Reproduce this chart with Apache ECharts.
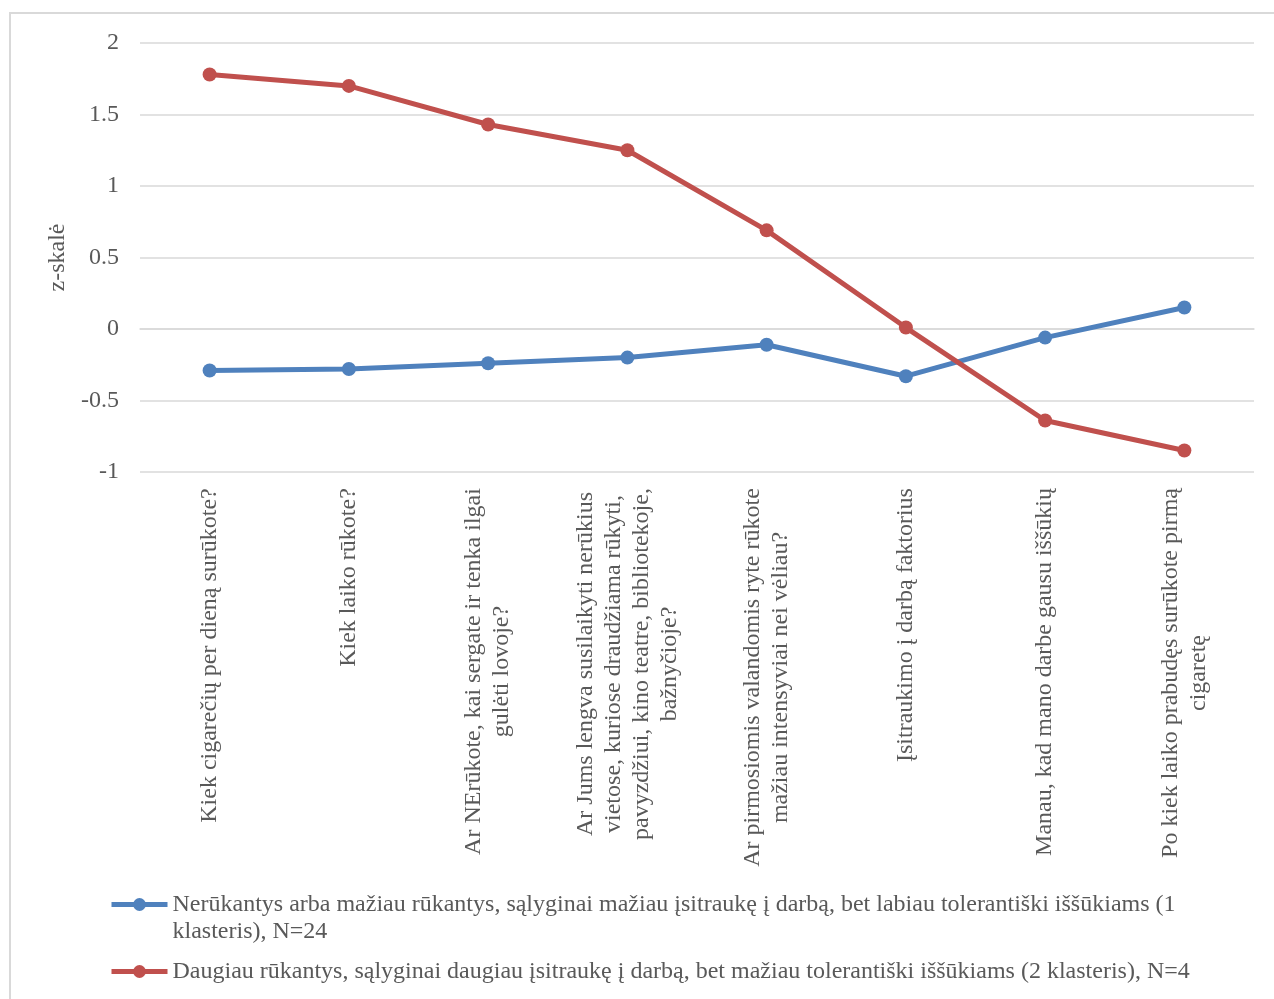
<!DOCTYPE html>
<html>
<head>
<meta charset="utf-8">
<script src="https://cdn.jsdelivr.net/npm/echarts@6/dist/echarts.min.js"></script>
<style>
  html, body { margin: 0; padding: 0; background: #ffffff; }
  #chart { width: 1274px; height: 999px; }
</style>
</head>
<body>
<div id="chart"></div>
<script>
// Questionnaire items (one line per "\n")
const categories = [
  'Kiek cigarečių per dieną surūkote?',
  'Kiek laiko rūkote?',
  'Ar NErūkote, kai sergate ir tenka ilgai\ngulėti lovoje?',
  'Ar Jums lengva susilaikyti nerūkius\nvietose, kuriose draudžiama rūkyti,\npavyzdžiui, kino teatre, bibliotekoje,\nbažnyčioje?',
  'Ar pirmosiomis valandomis ryte rūkote\nmažiau intensyviai nei vėliau?',
  'Įsitraukimo į darbą faktorius',
  'Manau, kad mano darbe gausu iššūkių',
  'Po kiek laiko prabudęs surūkote pirmą\ncigaretę'
];

const seriesNames = [
  'Nerūkantys arba mažiau rūkantys, sąlyginai mažiau įsitraukę į darbą, bet labiau tolerantiški iššūkiams (1 klasteris), N=24',
  'Daugiau rūkantys, sąlyginai daugiau įsitraukę į darbą, bet mažiau tolerantiški iššūkiams (2 klasteris), N=4'
];

// Cluster mean z-scores
const cluster1 = [-0.29, -0.28, -0.24, -0.20, -0.11, -0.33, -0.06, 0.15];
const cluster2 = [1.78, 1.70, 1.43, 1.25, 0.69, 0.01, -0.64, -0.85];

const yTicks = { min: -1, max: 2, interval: 0.5 };
const yName = 'z-skalė';

const FONT = '"Liberation Serif", "Times New Roman", serif';
const FONT_SIZE = 24;
const TEXT_COLOR = '#595959';
const GRID_COLOR = '#d9d9d9';
const BLUE = '#4f81bd';
const RED = '#c0504d';

// Measure each label's longest line so its lines can be centred within one box
const ctx = document.createElement('canvas').getContext('2d');
ctx.font = FONT_SIZE + 'px ' + FONT;
const rich = {};
categories.forEach((c, i) => {
  const w = Math.max(...c.split('\n').map(l => ctx.measureText(l).width));
  rich['c' + i] = {
    width: Math.ceil(w) + 2,
    align: 'center',
    fontFamily: FONT,
    fontSize: FONT_SIZE,
    color: TEXT_COLOR,
    lineHeight: 28
  };
});

const chart = echarts.init(document.getElementById('chart'), null, { renderer: 'canvas' });

const legendText = {
  fontFamily: FONT,
  fontSize: FONT_SIZE,
  color: TEXT_COLOR,
  lineHeight: 27
};

const legendCommon = {
  left: 109,
  orient: 'vertical',
  padding: 0,
  itemWidth: 56,
  itemHeight: 16,
  lineStyle: { width: 5 }
};

chart.setOption({
  animation: false,
  backgroundColor: '#ffffff',
  textStyle: { fontFamily: FONT },
  graphic: [{
    type: 'rect',
    shape: { x: 10, y: 13, width: 1400, height: 1100 },
    style: { fill: 'none', stroke: GRID_COLOR, lineWidth: 2 },
    silent: true
  }],
  grid: { left: 140, right: 20, top: 43, bottom: 527, containLabel: false },
  legend: [
    Object.assign({}, legendCommon, {
      top: 864,
      data: [seriesNames[0]],
      // leading blank line keeps the icon level with the first text line
      formatter: name => '\n' + name.replace('(1 klasteris)', '(1\nklasteris)'),
      textStyle: legendText
    }),
    Object.assign({}, legendCommon, {
      top: 958,
      data: [seriesNames[1]],
      textStyle: legendText
    })
  ],
  xAxis: {
    type: 'category',
    data: categories,
    boundaryGap: true,
    axisLine: { show: true, lineStyle: { color: GRID_COLOR, width: 1.5 } },
    axisTick: { show: false },
    axisLabel: {
      interval: 0,
      rotate: 90,
      margin: 15,
      formatter: (value, index) => value.split('\n').map(l => '{c' + index + '|' + l + '}').join('\n'),
      rich: rich
    }
  },
  yAxis: {
    type: 'value',
    min: yTicks.min,
    max: yTicks.max,
    interval: yTicks.interval,
    name: yName,
    nameLocation: 'middle',
    nameGap: 64,
    nameTextStyle: { fontFamily: FONT, fontSize: FONT_SIZE, color: TEXT_COLOR },
    axisLine: { show: false },
    axisTick: { show: false },
    axisLabel: {
      margin: 21,
      fontFamily: FONT,
      fontSize: FONT_SIZE,
      color: TEXT_COLOR,
      formatter: v => String(v)
    },
    splitLine: { show: true, lineStyle: { color: GRID_COLOR, width: 1.5 } }
  },
  series: [
    {
      name: seriesNames[0],
      type: 'line',
      data: cluster1,
      symbol: 'circle',
      symbolSize: 14,
      lineStyle: { color: BLUE, width: 5 },
      itemStyle: { color: BLUE }
    },
    {
      name: seriesNames[1],
      type: 'line',
      data: cluster2,
      symbol: 'circle',
      symbolSize: 14,
      lineStyle: { color: RED, width: 5 },
      itemStyle: { color: RED }
    }
  ]
});
</script>
</body>
</html>
